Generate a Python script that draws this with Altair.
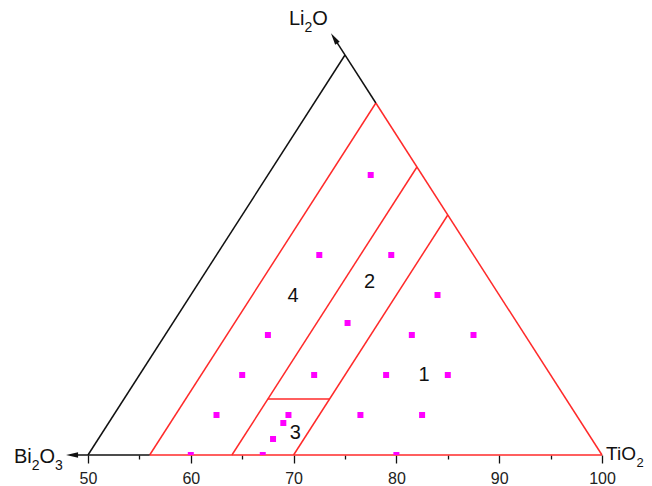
import altair as alt
import pandas as pd

# Sample compositions (mol%): TiO2 and Li2O; Bi2O3 = 100 - TiO2 - Li2O
pt_tio2 = [60, 60, 67, 74, 67, 60, 74, 80, 60, 67, 74, 80, 60, 67, 74, 80, 67, 67, 60, 67, 80]
pt_li2o = [35, 25, 25, 20, 16.5, 15, 15, 15, 10, 10, 10, 10, 5, 5, 5, 5, 4, 2, 0, 0, 0]

# Boundary segments given as ternary end points (TiO2, Li2O)
seg_t1 = [56, 100, 56, 64, 70, 64, 50, 56, 48.6]
seg_l1 = [0, 0, 0, 0, 0, 7, 0, 44, 0]
seg_t2 = [100, 56, 56, 64, 70, 70, 50, 48.3, 56]
seg_l2 = [0, 44, 44, 36, 30, 7, 50, 51.7, 0]
seg_col = ["red", "red", "red", "red", "red", "red", "black", "black", "black"]

# Arrow heads of the Bi2O3 and Li2O axes (TiO2, Li2O)
arr_t = [48.45, 47.9]
arr_l = [0, 52.1]
arr_ang = [270, 327.3]

# Phase-field labels (TiO2, Li2O)
reg_txt = ["1", "2", "3", "4"]
reg_t = [77.7, 66.6, 68.8, 60.0]
reg_l = [10.0, 21.6, 2.75, 19.9]

# Component labels, split into normal / subscript pieces
# (text, anchor x, anchor y, dx, subscript?, font size)
comp_txt = ["Li", "2", "O", "Bi", "2", "O", "3", "TiO", "2"]
comp_x = [69.55] * 3 + [42.8] * 4 + [100.39] * 2
comp_y = [53.75] * 3 + [-1.0] * 4 + [-0.625] * 2
comp_dx = [0, 15.6, 23.4, 0, 17.8, 25.6, 41.1, 0, 30.6]
comp_sub = [False, True, False, False, True, False, True, False, True]
comp_fs = [20, 14, 20, 20, 14, 20, 14, 19, 13]

ticks = list(range(50, 101, 5))

FONT = "Liberation Sans"

pts = pd.DataFrame({"t": pt_tio2, "l": pt_li2o})
segs = pd.DataFrame({"t1": seg_t1, "l1": seg_l1, "t2": seg_t2, "l2": seg_l2, "c": seg_col})
arrs = pd.DataFrame({"t": arr_t, "l": arr_l, "a": arr_ang})
regs = pd.DataFrame({"txt": reg_txt, "t": reg_t, "l": reg_l})

xs = alt.Scale(domain=[50, 100], nice=False, zero=False)
ys = alt.Scale(domain=[0, 50], nice=False, zero=False)

xaxis = alt.Axis(
    values=ticks,
    domain=False,
    grid=False,
    title=None,
    ticks=True,
    tickColor="#111",
    tickWidth=1.3,
    tickSize={"condition": {"test": "datum.value % 10 === 0", "value": 8}, "value": 4},
    labelExpr="datum.value % 10 === 0 ? datum.label : ''",
    labelFlush=False,
    labelOverlap=False,
    labelFont=FONT,
    labelFontSize=16,
    labelColor="#222",
    labelPadding=7,
)

base_x = alt.X("X:Q", scale=xs, axis=xaxis)
base_y = alt.Y("Y:Q", scale=ys, axis=None)

lines = alt.Chart(segs).transform_calculate(
    X="datum.t1 + datum.l1 / 2", Y="datum.l1",
    X2="datum.t2 + datum.l2 / 2", Y2="datum.l2",
).mark_rule(strokeWidth=1.5).encode(
    x=base_x, y=base_y, x2="X2:Q", y2="Y2:Q",
    color=alt.Color("c:N", scale=alt.Scale(domain=["red", "black"], range=["#ff2a2a", "#111111"]), legend=None),
)

points = alt.Chart(pts).transform_calculate(
    X="datum.t + datum.l / 2", Y="datum.l"
).mark_square(size=36, color="#ff00ff", opacity=1, clip=True).encode(x=base_x, y=base_y)

arrows = alt.Chart(arrs).transform_calculate(
    X="datum.t + datum.l / 2", Y="datum.l"
).mark_point(shape="M0,-1L0.45,1L-0.45,1Z", size=144, filled=True, color="#111", opacity=1).encode(
    x=base_x, y=base_y, angle=alt.Angle("a:Q", scale=None)
)

regions = alt.Chart(regs).transform_calculate(
    X="datum.t + datum.l / 2", Y="datum.l"
).mark_text(font=FONT, fontSize=20, color="#111", baseline="middle", align="center").encode(
    x=base_x, y=base_y, text="txt:N"
)

comp_layers = []
for txt, x, y, dx, sub, fs in zip(comp_txt, comp_x, comp_y, comp_dx, comp_sub, comp_fs):
    df = pd.DataFrame({"txt": [txt], "x": [x], "y": [y]})
    comp_layers.append(
        alt.Chart(df).mark_text(
            font=FONT, fontSize=fs, color="#111",
            baseline="alphabetic", align="left", dx=dx, dy=7 if sub else 0,
        ).encode(x=alt.X("x:Q", scale=xs, axis=xaxis), y=alt.Y("y:Q", scale=ys, axis=None), text="txt:N")
    )

chart = alt.layer(lines, points, arrows, regions, *comp_layers).properties(
    width=514, height=400,
    padding={"left": 80, "top": 47, "right": 42, "bottom": 31},
    autosize=alt.AutoSizeParams(type="none"),
).configure_view(stroke=None)

chart.save("out.html", embed_options={"renderer": "svg", "actions": False})
